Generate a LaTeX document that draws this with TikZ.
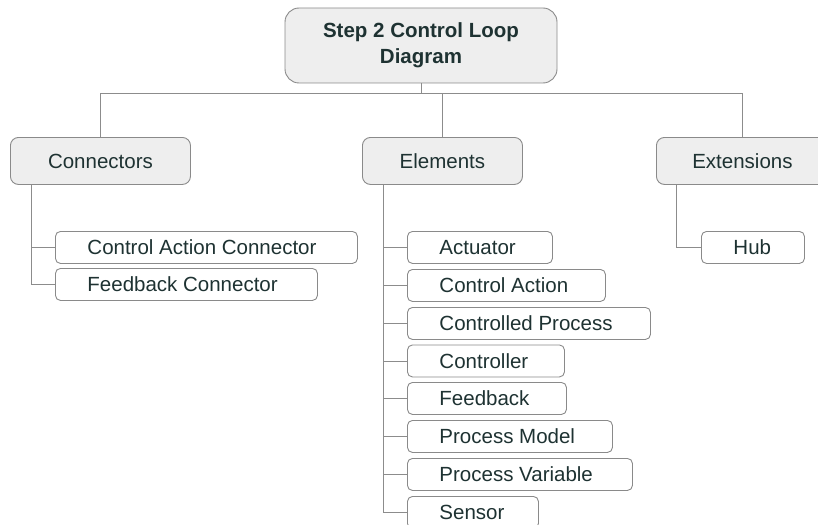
\documentclass[tikz,border=0pt]{standalone}
\usepackage{fontspec}
\setmainfont{Liberation Sans}
\definecolor{linec}{HTML}{8C8C8C}
\definecolor{boxc}{HTML}{8A8A8A}
\definecolor{headf}{HTML}{EEEEEE}
\definecolor{txt}{HTML}{1E3232}
% label of a leaf box: fixed box width, text indented from the left edge
\newcommand\lbl[2]{\makebox[#1pt][l]{\hspace{32pt}#2}}
\tikzset{
  conn/.style={draw=linec, line width=0.9pt},
  basefont/.style={font=\fontsize{20.5}{26}\selectfont, text=txt},
  rootbox/.style={basefont, draw=boxc, fill=headf, rounded corners=14pt, line width=0.9pt,
    minimum width=272pt, minimum height=75pt, align=center, font=\bfseries\fontsize{20.5}{26}\selectfont},
  groupbox/.style={basefont, draw=boxc, fill=headf, rounded corners=8pt, line width=0.9pt,
    minimum height=47pt, anchor=north west},
  leafbox/.style={basefont, draw=boxc, fill=white, rounded corners=5pt, line width=0.9pt,
    minimum height=32pt, inner xsep=0pt, inner ysep=0pt, anchor=north west}
}
\begin{document}
\begin{tikzpicture}[x=1pt, y=-1pt]
  \useasboundingbox (0,0) rectangle (818,524);
  \clip (0,0) rectangle (818,524);

  % root
  \node[rootbox] (root) at (421,45.5) {Step 2 Control Loop\\Diagram};

  % groups
  \node[groupbox, minimum width=180pt] (grpc) at (10,137) {Connectors};
  \node[groupbox, minimum width=160pt] (grpe) at (362,137) {Elements};
  \node[groupbox, minimum width=172pt] (grpx) at (656,137) {Extensions};

  % bus from root to groups
  \coordinate (bus) at (0,93);
  \draw[conn] (root.south) -- (root.south |- bus);
  \draw[conn] (grpc.north) -- (grpc.north |- bus) -- (grpx.north |- bus) -- (grpx.north);
  \draw[conn] (grpe.north) -- (grpe.north |- bus);

  % connectors
  \node[leafbox] (cac) at (55,231) {\lbl{302}{Control Action Connector}};
  \node[leafbox] (fbc) at (55,268) {\lbl{262}{Feedback Connector}};

  % elements
  \node[leafbox] (act) at (407,231)   {\lbl{145}{Actuator}};
  \node[leafbox] (cta) at (407,269)   {\lbl{198}{Control Action}};
  \node[leafbox] (cpr) at (407,307)   {\lbl{243}{Controlled Process}};
  \node[leafbox] (ctl) at (407,344.5) {\lbl{157}{Controller}};
  \node[leafbox] (fdb) at (407,382)   {\lbl{159}{Feedback}};
  \node[leafbox] (pmd) at (407,420)   {\lbl{205}{Process Model}};
  \node[leafbox] (pvr) at (407,458)   {\lbl{225}{Process Variable}};
  \node[leafbox] (sns) at (407,496)   {\lbl{131}{Sensor}};

  % extensions
  \node[leafbox] (hub) at (701,231) {\lbl{103}{Hub}};

  % trunks and branches
  \foreach \c in {cac,fbc}
    \draw[conn] ([xshift=21pt]grpc.south west) |- (\c.west);
  \foreach \c in {act,cta,cpr,ctl,fdb,pmd,pvr,sns}
    \draw[conn] ([xshift=21pt]grpe.south west) |- (\c.west);
  \draw[conn] ([xshift=20pt]grpx.south west) |- (hub.west);
\end{tikzpicture}
\end{document}
